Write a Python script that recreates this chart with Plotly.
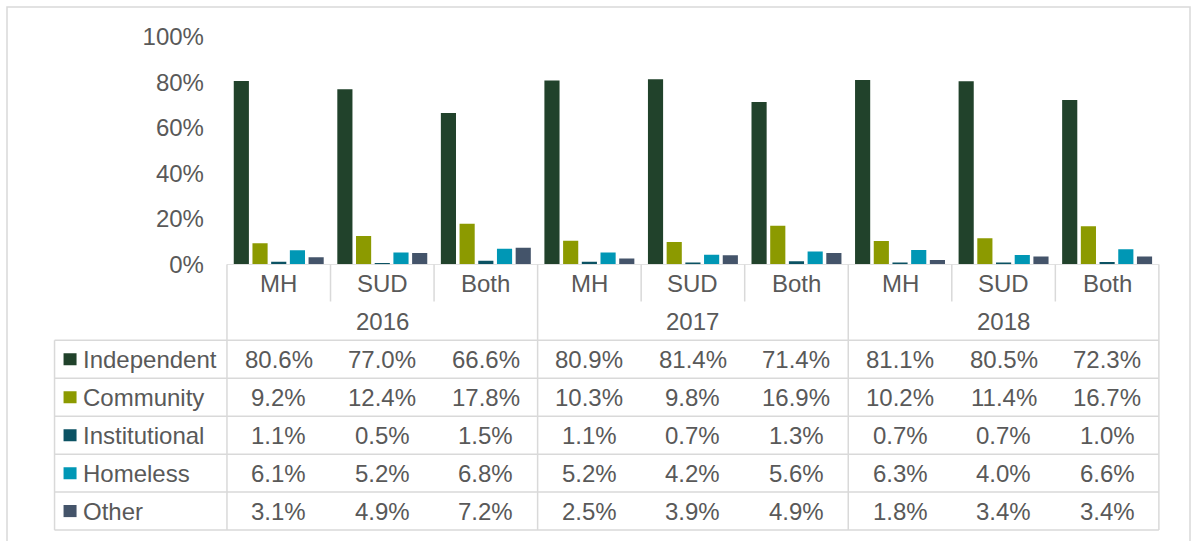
import plotly.graph_objects as go

# ---------------- data ----------------
types = ["MH", "SUD", "Both", "MH", "SUD", "Both", "MH", "SUD", "Both"]
years = ["2016", "2017", "2018"]
series_names = ["Independent", "Community", "Institutional", "Homeless", "Other"]
independent = [80.6, 77.0, 66.6, 80.9, 81.4, 71.4, 81.1, 80.5, 72.3]
community = [9.2, 12.4, 17.8, 10.3, 9.8, 16.9, 10.2, 11.4, 16.7]
institutional = [1.1, 0.5, 1.5, 1.1, 0.7, 1.3, 0.7, 0.7, 1.0]
homeless = [6.1, 5.2, 6.8, 5.2, 4.2, 5.6, 6.3, 4.0, 6.6]
other = [3.1, 4.9, 7.2, 2.5, 3.9, 4.9, 1.8, 3.4, 3.4]
y_ticks = [0, 20, 40, 60, 80, 100]
y_ticktext = ["0%", "20%", "40%", "60%", "80%", "100%"]

# ---------------- style ----------------
colors = ["#21422B", "#8C9A00", "#0B5263", "#0097B5", "#44546A"]
TXT = "#595959"
GRID = "#D9D9D9"
FONT = "Liberation Sans"
FS = 24

W, H = 1194, 541
ML, MR, MT, MB = 53, 32, 37, 9
series = [independent, community, institutional, homeless, other]
n = len(types)
xs = list(range(n))

# table geometry in axis units
LEG_LEFT = -2.165          # left edge of legend column (x units)
X_LO, X_HI = -2.18, 8.53
ROWS = 2 + len(series)     # category row, year row, data rows
Y2_HI = ROWS + 0.05
split = 0.541              # fraction of plot height used by the table

fig = go.Figure()
for name, vals, c in zip(series_names, series, colors):
    fig.add_trace(go.Bar(x=xs, y=vals, name=name, marker_color=c,
                         marker_line_width=0, showlegend=False,
                         hovertemplate=name + ": %{y:.1f}%<extra></extra>"))

shapes = []
ann = []
line = dict(color=GRID, width=1.5)

def hline(x0, x1, r):
    shapes.append(dict(type="line", xref="x", yref="y2", x0=x0, x1=x1, y0=r, y1=r, line=line))

def vline(x, r0, r1):
    shapes.append(dict(type="line", xref="x", yref="y2", x0=x, x1=x, y0=r0, y1=r1, line=line))

# top line (category axis line)
hline(-0.5, n - 0.5, 0)
# category row separators
for k in range(n + 1):
    if k % 3 == 0:
        vline(k - 0.5, 0, ROWS)
    else:
        vline(k - 0.5, 0, 0.98)
# data row lines
for r in range(2, ROWS + 1):
    hline(LEG_LEFT, n - 0.5, r)
vline(LEG_LEFT, 2, ROWS)

# category labels
for i, t in enumerate(types):
    ann.append(dict(x=i, y=0.5, xref="x", yref="y2", text=t, showarrow=False,
                    font=dict(family=FONT, size=FS, color=TXT)))
# year labels
for g, yr in enumerate(years):
    ann.append(dict(x=g * 3 + 1, y=1.5, xref="x", yref="y2", text=yr, showarrow=False,
                    font=dict(family=FONT, size=FS, color=TXT)))
# data values + legend keys
for s, (name, vals, c) in enumerate(zip(series_names, series, colors)):
    r = 2 + s + 0.5
    for i, v in enumerate(vals):
        ann.append(dict(x=i, y=r, xref="x", yref="y2", text=f"{v:.1f}%", showarrow=False,
                        font=dict(family=FONT, size=FS, color=TXT)))
    shapes.append(dict(type="rect", xref="x", yref="y2", xsizemode="pixel", ysizemode="pixel",
                       xanchor=LEG_LEFT, yanchor=r, x0=9, x1=22, y0=-6, y1=6,
                       fillcolor=c, line=dict(width=0)))
    ann.append(dict(x=LEG_LEFT, y=r, xref="x", yref="y2", text=name, showarrow=False,
                    xanchor="left", xshift=26,
                    font=dict(family=FONT, size=FS, color=TXT)))

# outer chart frame (pixels -> paper)
pw, ph = W - ML - MR, H - MT - MB
def px(xp):
    return (xp - ML) / pw
def py(yp):
    return (H - MB - yp) / ph
shapes.append(dict(type="rect", xref="paper", yref="paper", x0=px(7), x1=px(1190),
                   y0=py(545), y1=py(7), line=dict(color=GRID, width=1.5),
                   fillcolor="rgba(0,0,0,0)", layer="below"))

fig.update_layout(
    template="none",
    width=W, height=H, margin=dict(l=ML, r=MR, t=MT, b=MB, autoexpand=False),
    paper_bgcolor="white", plot_bgcolor="white",
    font=dict(family=FONT, size=FS, color=TXT),
    barmode="group", bargap=0.097, bargroupgap=0.19,
    xaxis=dict(range=[X_LO, X_HI], showgrid=False, zeroline=False, showticklabels=False,
               showline=False, ticks="", fixedrange=True, automargin=False),
    yaxis=dict(domain=[split, 1], range=[0, 100], tickvals=y_ticks, ticktext=y_ticktext,
               showgrid=False, zeroline=False, showline=False, ticks="",
               anchor="free", position=(-0.5 - X_LO) / (X_HI - X_LO),
               ticklabelstandoff=23, automargin=False, fixedrange=True,
               tickfont=dict(family=FONT, size=FS, color=TXT)),
    yaxis2=dict(domain=[0, split], range=[Y2_HI, 0], showgrid=False, zeroline=False,
                showticklabels=False, showline=False, ticks="", anchor="x",
                automargin=False, fixedrange=True),
    shapes=shapes, annotations=ann, showlegend=False,
)

fig.write_html("out.html", config={"displayModeBar": False},
               post_script="document.body.style.margin='0';document.body.style.overflow='hidden';")
